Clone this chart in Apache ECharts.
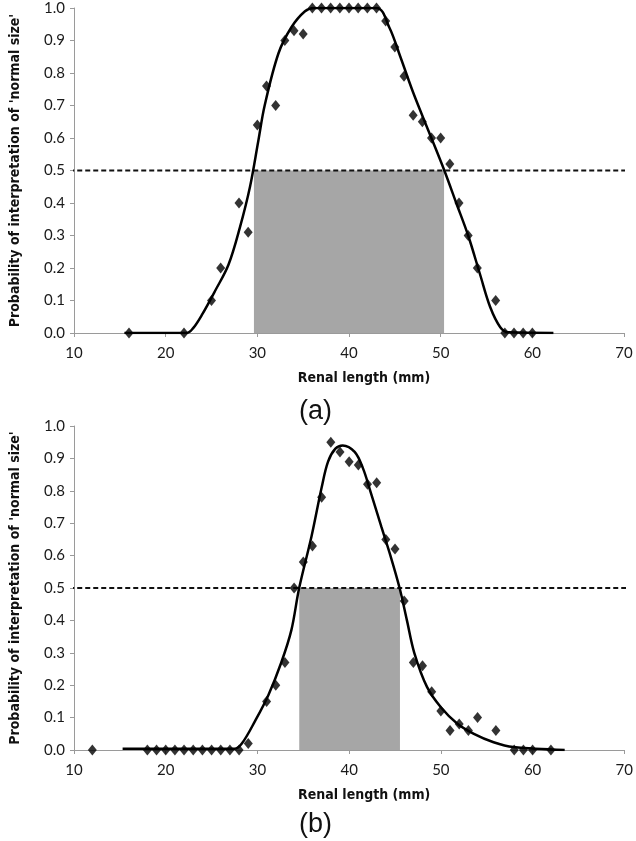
<!DOCTYPE html>
<html>
<head>
<meta charset="utf-8">
<script src="https://cdn.jsdelivr.net/npm/echarts@6/dist/echarts.min.js"></script>
<style>html,body{margin:0;padding:0;background:#fff;}#c{width:636px;height:841px;}</style>
</head>
<body>
<div id="c"></div>
<script>
// ---- Data ----
var xTicks = [10, 20, 30, 40, 50, 60, 70];
var yTicks = [0, 0.1, 0.2, 0.3, 0.4, 0.5, 0.6, 0.7, 0.8, 0.9, 1.0];

// Panel (a): observed points
var aPointsX = [16, 22, 25, 26, 28, 29, 30, 31, 32, 33, 34, 35, 36, 37, 38, 39, 40, 41, 42, 43, 44, 45, 46, 47, 48, 49, 50, 51, 52, 53, 54, 56, 57, 58, 59, 60];
var aPointsY = [0, 0, 0.10, 0.20, 0.40, 0.31, 0.64, 0.76, 0.70, 0.90, 0.93, 0.92, 1, 1, 1, 1, 1, 1, 1, 1, 0.96, 0.88, 0.79, 0.67, 0.65, 0.60, 0.60, 0.52, 0.40, 0.30, 0.20, 0.10, 0, 0, 0, 0];
// Panel (a): fitted curve (traced)
var aCurveX = [15.5, 22.3, 23.0, 24.0, 25.4, 26.85, 28.1, 29.2, 30.1, 30.8, 32.3, 33.7, 35.2, 36.2, 43.0, 44.4, 45.6, 47.0, 48.7, 50.4, 51.7, 53.0, 54.3, 55.4, 56.5, 57.4, 62.3];
var aCurveY = [0, 0, 0.015, 0.058, 0.13, 0.21, 0.325, 0.45, 0.59, 0.70, 0.86, 0.94, 0.99, 1.0, 1.0, 0.94, 0.85, 0.74, 0.62, 0.50, 0.40, 0.30, 0.18, 0.08, 0.018, 0.002, 0];
var aRange = [29.63, 50.37];

// Panel (b): observed points
var bPointsX = [12, 18, 19, 20, 21, 22, 23, 24, 25, 26, 27, 28, 29, 31, 32, 33, 34, 35, 36, 37, 38, 39, 40, 41, 42, 43, 44, 45, 46, 47, 48, 49, 50, 51, 52, 53, 54, 56, 58, 59, 60, 62];
var bPointsY = [0, 0, 0, 0, 0, 0, 0, 0, 0, 0, 0, 0, 0.02, 0.15, 0.20, 0.27, 0.50, 0.58, 0.63, 0.78, 0.95, 0.92, 0.89, 0.88, 0.82, 0.825, 0.65, 0.62, 0.46, 0.27, 0.26, 0.18, 0.12, 0.06, 0.08, 0.06, 0.10, 0.06, 0, 0, 0, 0];
// Panel (b): fitted curve (traced)
var bCurveX = [15.3, 27.5, 28.3, 29.75, 31.2, 32.6, 33.7, 34.55, 35.9, 37.0, 37.7, 38.5, 39.3, 40.6, 41.5, 42.3, 43.5, 44.5, 45.5, 46.3, 47.1, 48.5, 50.0, 51.8, 53.6, 55.75, 57.9, 63.5];
var bCurveY = [0.004, 0.004, 0.02, 0.09, 0.17, 0.27, 0.37, 0.5, 0.66, 0.81, 0.89, 0.93, 0.94, 0.92, 0.87, 0.80, 0.69, 0.60, 0.50, 0.40, 0.30, 0.194, 0.132, 0.081, 0.05, 0.024, 0.009, 0];
var bRange = [34.56, 45.54];

var threshold = 0.5;
var thresholdSpan = [9.48, 71.3];
var panelLabels = ['(a)', '(b)'];
var xName = 'Renal length (mm)';
var yName = "Probability of interpretation of 'normal size'";

function zip(xs, ys) { return xs.map(function (x, i) { return [x, ys[i]]; }); }

var chart = echarts.init(document.getElementById('c'), null, {renderer: 'canvas'});

var axisColor = '#9a9a9a';
var tickFont = {color: '#1a1a1a', fontFamily: 'Lato, "Open Sans", sans-serif', fontSize: 15};
var nameFont = {color: '#111', fontFamily: '"Liberation Sans Narrow", "DejaVu Sans Condensed", sans-serif', fontWeight: 'bold', fontSize: 14};

function xAxisFor(gi) {
  return {
    type: 'value', gridIndex: gi, min: xTicks[0], max: xTicks[xTicks.length - 1], interval: 10,
    axisLine: {show: true, onZero: false, lineStyle: {color: axisColor, width: 1}},
    axisTick: {show: true, inside: false, length: 4, lineStyle: {color: axisColor}},
    splitLine: {show: false},
    axisLabel: Object.assign({margin: 13}, tickFont),
    name: xName, nameLocation: 'middle', nameGap: 38,
    nameTextStyle: Object.assign({padding: [0, 0, 0, 30]}, nameFont)
  };
}
function yAxisFor(gi) {
  return {
    type: 'value', gridIndex: gi, min: yTicks[0], max: yTicks[yTicks.length - 1], interval: 0.1,
    axisLine: {show: true, lineStyle: {color: axisColor, width: 1}},
    axisTick: {show: true, inside: false, length: 4, lineStyle: {color: axisColor}},
    splitLine: {show: false},
    axisLabel: Object.assign({margin: 9, formatter: function (v) { return v.toFixed(1); }}, tickFont),
    name: yName, nameLocation: 'middle', nameGap: 52,
    nameTextStyle: nameFont
  };
}

function panelSeries(gi, px, py, cx, cy, range) {
  return [
    {
      type: 'line', xAxisIndex: gi, yAxisIndex: gi, data: [], z: 1, silent: true,
      markArea: {silent: true, itemStyle: {color: '#a6a6a6', opacity: 1},
        data: [[{coord: [range[0], 0]}, {coord: [range[1], threshold]}]]}
    },
    {
      type: 'line', xAxisIndex: gi, yAxisIndex: gi, z: 3, clip: false, silent: true,
      data: [[thresholdSpan[0], threshold], [thresholdSpan[1], threshold]],
      symbol: 'none', lineStyle: {color: '#111', width: 2, type: [5, 3]}
    },
    {
      type: 'line', xAxisIndex: gi, yAxisIndex: gi, z: 4, silent: true,
      data: zip(cx, cy), symbol: 'none', smooth: 0.35,
      lineStyle: {color: '#000', width: 2.5}
    },
    {
      type: 'scatter', xAxisIndex: gi, yAxisIndex: gi, z: 5, silent: true,
      data: zip(px, py), symbol: 'diamond', symbolSize: [9, 11],
      itemStyle: {color: '#000'}
    }
  ];
}

chart.setOption({
  animation: false,
  backgroundColor: '#fff',
  grid: [
    {left: 71, right: 12, top: 8, height: 325},
    {left: 71, right: 11, top: 426, height: 324}
  ],
  xAxis: [xAxisFor(0), xAxisFor(1)],
  yAxis: [yAxisFor(0), yAxisFor(1)],
  series: [].concat(
    panelSeries(0, aPointsX, aPointsY, aCurveX, aCurveY, aRange),
    panelSeries(1, bPointsX, bPointsY, bCurveX, bCurveY, bRange)
  ),
  graphic: [
    {type: 'text', left: 299, top: 398, style: {text: panelLabels[0], fill: '#111', font: '27px "Liberation Sans", Arial, sans-serif'}},
    {type: 'text', left: 299, top: 811, style: {text: panelLabels[1], fill: '#111', font: '27px "Liberation Sans", Arial, sans-serif'}}
  ]
});
</script>
</body>
</html>
